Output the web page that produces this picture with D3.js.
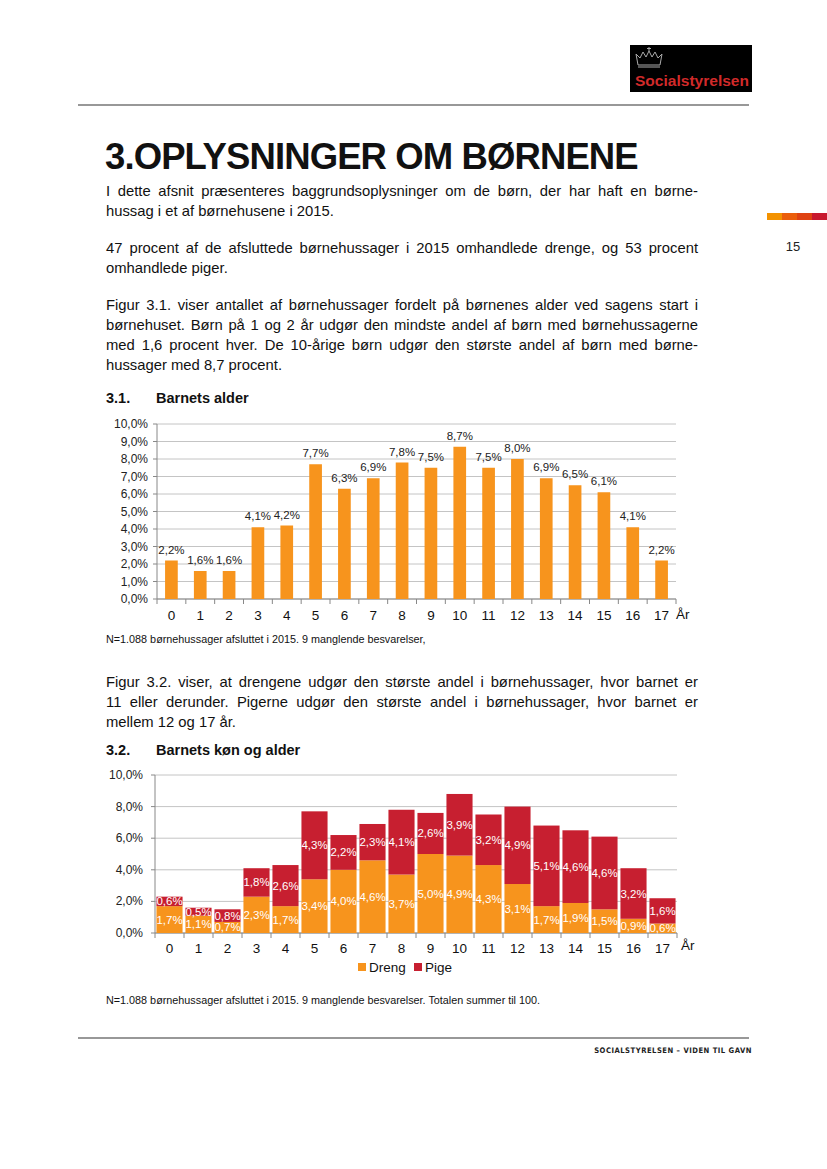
<!DOCTYPE html>
<html>
<head>
<meta charset="utf-8">
<script src="https://cdn.jsdelivr.net/npm/d3@7"></script>
<style>
  body { margin: 0; background: #fff; }
  #page { position: relative; width: 827px; height: 1169px; font-family: "Liberation Sans", Arial, sans-serif; color: #111; }
  .ln { position: absolute; left: 106px; width: 592px; font-size: 14.8px; line-height: 20px; white-space: nowrap; }
  .j { text-align: justify; text-align-last: justify; }
  .h1 { position: absolute; left: 105px; top: 136px; font-size: 36.5px; font-weight: bold; letter-spacing: -0.9px; }
  .h2 { position: absolute; font-size: 14.5px; font-weight: bold; }
  .note { position: absolute; left: 106px; font-size: 10.8px; }
  svg { position: absolute; left: 0; top: 0; }
</style>
</head>
<body>
<div id="page"></div>
<script>
const ages = ["0","1","2","3","4","5","6","7","8","9","10","11","12","13","14","15","16","17"];
const total = [2.2, 1.6, 1.6, 4.1, 4.2, 7.7, 6.3, 6.9, 7.8, 7.5, 8.7, 7.5, 8.0, 6.9, 6.5, 6.1, 4.1, 2.2];
const dreng = [1.7, 1.1, 0.7, 2.3, 1.7, 3.4, 4.0, 4.6, 3.7, 5.0, 4.9, 4.3, 3.1, 1.7, 1.9, 1.5, 0.9, 0.6];
const pige  = [0.6, 0.5, 0.8, 1.8, 2.6, 4.3, 2.2, 2.3, 4.1, 2.6, 3.9, 3.2, 4.9, 5.1, 4.6, 4.6, 3.2, 1.6];
const ticks1 = [0, 1, 2, 3, 4, 5, 6, 7, 8, 9, 10];
const ticks2 = [0, 2, 4, 6, 8, 10];
const seriesNames = ["Dreng", "Pige"];

const orange = "#f7941d", red = "#c71f30", grid = "#c4c4c4";
const pct = v => d3.format(".1f")(v).replace(".", ",") + "%";

const page = d3.select("#page");

// body text, one div per line so the line breaks match
const lines = [
  [196, "I dette afsnit præsenteres baggrundsoplysninger om de børn, der har haft en børne-", true],
  [216, "hussag i et af børnehusene i 2015.", false],
  [253, "47 procent af de afsluttede børnehussager i 2015 omhandlede drenge, og 53 procent", true],
  [273, "omhandlede piger.", false],
  [310, "Figur 3.1. viser antallet af børnehussager fordelt på børnenes alder ved sagens start i", true],
  [330, "børnehuset. Børn på 1 og 2 år udgør den mindste andel af børn med børnehussagerne", true],
  [350, "med 1,6 procent hver. De 10-årige børn udgør den største andel af børn med børne-", true],
  [370, "hussager med 8,7 procent.", false],
  [687, "Figur 3.2. viser, at drengene udgør den største andel i børnehussager, hvor barnet er", true],
  [707, "11 eller derunder. Pigerne udgør den største andel i børnehussager, hvor barnet er", true],
  [727, "mellem 12 og 17 år.", false]
];
lines.forEach(([y, t, j]) => {
  page.append("div").attr("class", "ln" + (j ? " j" : ""))
    .style("top", (y - 15) + "px").text(t);
});

page.append("div").attr("class", "h1").text("3.OPLYSNINGER OM BØRNENE");
page.append("div").attr("class", "h2").style("left", "106px").style("top", "390px").text("3.1.");
page.append("div").attr("class", "h2").style("left", "156px").style("top", "390px").text("Barnets alder");
page.append("div").attr("class", "h2").style("left", "106px").style("top", "742px").text("3.2.");
page.append("div").attr("class", "h2").style("left", "156px").style("top", "742px").text("Barnets køn og alder");
page.append("div").attr("class", "note").style("top", "633px")
  .text("N=1.088 børnehussager afsluttet i 2015. 9 manglende besvarelser,");
page.append("div").attr("class", "note").style("top", "994px")
  .text("N=1.088 børnehussager afsluttet i 2015. 9 manglende besvarelser. Totalen summer til 100.");

const svg = page.append("svg").attr("width", 827).attr("height", 1169);

// header / footer decoration
svg.append("line").attr("x1", 78).attr("x2", 749).attr("y1", 105).attr("y2", 105).attr("stroke", "#333").attr("stroke-width", 1.2);
svg.append("line").attr("x1", 78).attr("x2", 749).attr("y1", 1038).attr("y2", 1038).attr("stroke", "#333").attr("stroke-width", 1.2);
svg.append("text").attr("x", 752).attr("y", 1053).attr("text-anchor", "end")
  .attr("font-family", "DejaVu Sans Condensed, Liberation Sans Narrow, sans-serif").attr("font-size", 7.6).attr("font-weight", "bold")
  .attr("letter-spacing", 0.5).attr("fill", "#222").text("SOCIALSTYRELSEN – VIDEN TIL GAVN");
["#f39200", "#eb5e0b", "#df4212", "#c8182e"].forEach((c, i) => {
  svg.append("rect").attr("x", 767 + i * 15).attr("y", 213).attr("width", 15).attr("height", 7).attr("fill", c);
});
svg.append("text").attr("x", 793).attr("y", 251).attr("text-anchor", "middle")
  .attr("font-family", "Liberation Sans, Arial").attr("font-size", 13).attr("fill", "#222").text("15");

// logo
const logo = svg.append("g").attr("transform", "translate(630,45)");
logo.append("rect").attr("width", 122).attr("height", 47).attr("fill", "#000");
logo.append("path")
  .attr("d", "M8,20 L6,9 L10,13 L13,7 L16,12 L19,6 L22,12 L25,7 L28,13 L32,9 L30,20 Z M8,22 L30,22 M19,2 L19,6 M17,3.5 L21,3.5")
  .attr("fill", "none").attr("stroke", "#aaa").attr("stroke-width", 1);
logo.append("text").attr("x", 5).attr("y", 41).attr("font-family", "Liberation Sans, sans-serif")
  .attr("font-size", 15.5).attr("font-weight", "bold").attr("fill", "#d12a2a")
  .attr("textLength", 114).attr("lengthAdjust", "spacingAndGlyphs")
  .text("Socialstyrelsen");

// ---- chart 1
const x1 = d3.scaleBand().domain(ages).range([157, 676]).paddingInner(0.56).paddingOuter(0.28);
const y1 = d3.scaleLinear().domain([0, 10]).range([599, 424]);
const c1 = svg.append("g").attr("font-family", "Liberation Sans, Arial, sans-serif");

c1.selectAll(".g1").data(ticks1).join("line")
  .attr("x1", 157).attr("x2", 676).attr("y1", d => y1(d)).attr("y2", d => y1(d))
  .attr("stroke", grid).attr("stroke-width", 1);
c1.selectAll(".yl1").data(ticks1).join("text")
  .attr("x", 148).attr("y", d => y1(d) + 4).attr("text-anchor", "end").attr("font-size", 12).attr("fill", "#222")
  .text(pct);
c1.selectAll(".yt1").data(ticks1).join("line")
  .attr("x1", 153).attr("x2", 157).attr("y1", d => y1(d)).attr("y2", d => y1(d)).attr("stroke", "#888");
c1.append("line").attr("x1", 157).attr("x2", 157).attr("y1", 424).attr("y2", 599).attr("stroke", "#888");
c1.append("line").attr("x1", 157).attr("x2", 676).attr("y1", 599).attr("y2", 599).attr("stroke", "#888");
c1.selectAll(".xt1").data(d3.range(ages.length + 1)).join("line")
  .attr("x1", i => 157 + i * x1.step()).attr("x2", i => 157 + i * x1.step())
  .attr("y1", 599).attr("y2", 604).attr("stroke", "#888");

c1.selectAll(".bar1").data(total).join("rect")
  .attr("x", (d, i) => x1(ages[i])).attr("width", x1.bandwidth())
  .attr("y", d => y1(d)).attr("height", d => y1(0) - y1(d)).attr("fill", orange);
c1.selectAll(".lab1").data(total).join("text")
  .attr("x", (d, i) => x1(ages[i]) + x1.bandwidth() / 2).attr("y", d => y1(d) - 7)
  .attr("text-anchor", "middle").attr("font-size", 11.5).attr("fill", "#222").text(pct);
c1.selectAll(".xl1").data(ages).join("text")
  .attr("x", d => x1(d) + x1.bandwidth() / 2).attr("y", 620).attr("text-anchor", "middle")
  .attr("font-size", 13.5).attr("fill", "#111").text(d => d);
c1.append("text").attr("x", 676).attr("y", 619).attr("font-size", 13.5).attr("fill", "#111").text("År");

// ---- chart 2
const x2 = d3.scaleBand().domain(ages).range([155, 677]).paddingInner(0.1).paddingOuter(0.05);
const y2 = d3.scaleLinear().domain([0, 10]).range([933, 775]);
const c2 = svg.append("g").attr("font-family", "Liberation Sans, Arial, sans-serif");

c2.selectAll(".g2").data(ticks2).join("line")
  .attr("x1", 155).attr("x2", 677).attr("y1", d => y2(d)).attr("y2", d => y2(d))
  .attr("stroke", grid).attr("stroke-width", 1);
c2.selectAll(".yl2").data(ticks2).join("text")
  .attr("x", 143).attr("y", d => y2(d) + 4).attr("text-anchor", "end").attr("font-size", 12).attr("fill", "#222")
  .text(pct);
c2.selectAll(".yt2").data(ticks2).join("line")
  .attr("x1", 151).attr("x2", 155).attr("y1", d => y2(d)).attr("y2", d => y2(d)).attr("stroke", "#888");
c2.append("line").attr("x1", 155).attr("x2", 155).attr("y1", 775).attr("y2", 933).attr("stroke", "#888");
c2.append("line").attr("x1", 155).attr("x2", 677).attr("y1", 933).attr("y2", 933).attr("stroke", "#888");
c2.selectAll(".xt2").data(d3.range(ages.length + 1)).join("line")
  .attr("x1", i => 155 + i * x2.step()).attr("x2", i => 155 + i * x2.step())
  .attr("y1", 933).attr("y2", 938).attr("stroke", "#888");

const stackData = ages.map((a, i) => ({ age: a, Dreng: dreng[i], Pige: pige[i] }));
const stacked = d3.stack().keys(seriesNames)(stackData);
const colors = d3.scaleOrdinal().domain(seriesNames).range([orange, red]);

const layers = c2.selectAll(".layer").data(stacked).join("g").attr("fill", d => colors(d.key));
layers.selectAll("rect").data(d => d).join("rect")
  .attr("x", d => x2(d.data.age)).attr("width", x2.bandwidth())
  .attr("y", d => y2(d[1])).attr("height", d => y2(d[0]) - y2(d[1]));
layers.selectAll("text").data(d => d).join("text")
  .attr("x", d => x2(d.data.age) + x2.bandwidth() / 2)
  .attr("y", d => (y2(d[0]) + y2(d[1])) / 2 + 4)
  .attr("text-anchor", "middle").attr("font-size", 11.5).attr("fill", "#fff")
  .text(d => pct(d[1] - d[0]));

c2.selectAll(".xl2").data(ages).join("text")
  .attr("x", d => x2(d) + x2.bandwidth() / 2).attr("y", 953).attr("text-anchor", "middle")
  .attr("font-size", 13.5).attr("fill", "#111").text(d => d);
c2.append("text").attr("x", 681).attr("y", 950).attr("font-size", 13.5).attr("fill", "#111").text("År");

// legend
const leg = c2.selectAll(".leg").data(seriesNames).join("g")
  .attr("transform", (d, i) => `translate(${[358, 414][i]},963)`);
leg.append("rect").attr("width", 8).attr("height", 8).attr("fill", d => colors(d));
leg.append("text").attr("x", 11).attr("y", 9).attr("font-size", 13.5).attr("fill", "#111").text(d => d);
</script>
</body>
</html>
